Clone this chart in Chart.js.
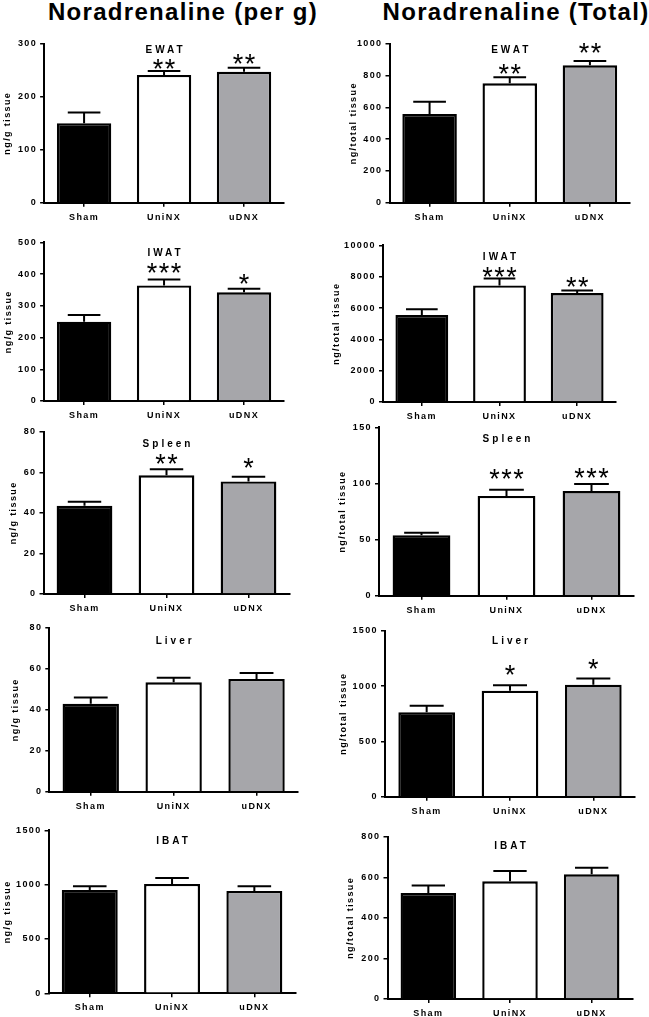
<!DOCTYPE html>
<html>
<head>
<meta charset="utf-8">
<script src="https://cdn.jsdelivr.net/npm/chart.js@4.4.0/dist/chart.umd.min.js"></script>
<style>
  body { margin: 0; background: #fff; width: 649px; height: 1017px; position: relative; overflow: hidden;
         font-family: "Liberation Sans", Arial, sans-serif; }
  .title { position: absolute; font-weight: bold; font-size: 24px; line-height: 25px; letter-spacing: 1.3px;
           white-space: nowrap; transform: translateX(-50%); color: #000; }
</style>
</head>
<body>
<div class="title" style="left:183px; top:-1px;">Noradrenaline (per g)</div>
<div class="title" style="left:516px; top:-1px;">Noradrenaline (Total)</div>
<script>
const groups = ['Sham', 'UniNX', 'uDNX'];
const barColors = ['#000000', '#ffffff', '#a6a6aa'];

// Noradrenaline per g tissue (mean, SEM, significance)
const ewatG = [150, 241, 247];
const ewatGErr = [20, 7.5, 7.7];
const ewatGSig = ['', '**', '**'];
const iwatG = [250, 364.5, 342.5];
const iwatGErr = [21, 18.5, 11.5];
const iwatGSig = ['', '***', '*'];
const spleenG = [43.5, 58.5, 55.5];
const spleenGErr = [2, 3, 2.3];
const spleenGSig = ['', '**', '*'];
const liverG = [42.9, 53.4, 55];
const liverGErr = [3, 2.2, 2.9];
const liverGSig = ['', '', ''];
const ibatG = [952, 1007, 943];
const ibatGErr = [34, 55, 43];
const ibatGSig = ['', '', ''];

// Noradrenaline total tissue
const ewatT = [558, 751, 864];
const ewatTErr = [77, 38, 27];
const ewatTSig = ['', '**', '**'];
const iwatT = [5552, 7447, 6956];
const iwatTErr = [363, 447, 172];
const iwatTSig = ['', '***', '**'];
const spleenT = [53.8, 88.9, 93.3];
const spleenTErr = [2.4, 5.6, 6.3];
const spleenTSig = ['', '***', '***'];
const liverT = [763, 958, 1012];
const liverTErr = [59, 49, 56];
const liverTSig = ['', '*', '*'];
const ibatT = [522, 580, 615];
const ibatTErr = [38, 51, 32];
const ibatTSig = ['', '', ''];

// panel layout: plot box in page pixels, axis range, label placement
const panels = [
  { data: ewatG, err: ewatGErr, sig: ewatGSig, max: 300, step: 100, unit: 'ng/g tissue', tissue: 'EWAT',
    x0: 44.1, x1: 284, top: 43.7, bottom: 202.7, labelX: 8, tissueY: 6.3, starGap: [0, 7, 9] },
  { data: ewatT, err: ewatTErr, sig: ewatTSig, max: 1000, step: 200, unit: 'ng/total tissue', tissue: 'EWAT',
    x0: 389.5, x1: 630, top: 43.7, bottom: 202.7, labelX: 353.5, tissueY: 6.3, starGap: [0, 8, 13] },
  { data: iwatG, err: iwatGErr, sig: iwatGSig, max: 500, step: 100, unit: 'ng/g tissue', tissue: 'IWAT',
    x0: 44.1, x1: 284, top: 242.3, bottom: 401, labelX: 9, tissueY: 10.4, starGap: [0, 11.6, 10] },
  { data: iwatT, err: iwatTErr, sig: iwatTSig, max: 10000, step: 2000, unit: 'ng/total tissue', tissue: 'IWAT',
    x0: 383, x1: 616, top: 245.3, bottom: 402, labelX: 336.5, tissueY: 11.4, starGap: [0, 6.6, 8.6] },
  { data: spleenG, err: spleenGErr, sig: spleenGSig, max: 80, step: 20, unit: 'ng/g tissue', tissue: 'Spleen',
    x0: 43.5, x1: 289.5, top: 431.7, bottom: 594, labelX: 13.7, tissueY: 12.3, starGap: [0, 10, 14] },
  { data: spleenT, err: spleenTErr, sig: spleenTSig, max: 150, step: 50, unit: 'ng/total tissue', tissue: 'Spleen',
    x0: 379, x1: 634, top: 427.3, bottom: 595.7, labelX: 342.5, tissueY: 12, starGap: [0, 16, 11] },
  { data: liverG, err: liverGErr, sig: liverGSig, max: 80, step: 20, unit: 'ng/g tissue', tissue: 'Liver',
    x0: 49.3, x1: 298, top: 627.7, bottom: 791.7, labelX: 15.5, tissueY: 13.3, starGap: [0, 0, 0] },
  { data: liverT, err: liverTErr, sig: liverTSig, max: 1500, step: 500, unit: 'ng/total tissue', tissue: 'Liver',
    x0: 385, x1: 635, top: 630.7, bottom: 796.7, labelX: 343.5, tissueY: 11, starGap: [0, 15, 15] },
  { data: ibatG, err: ibatGErr, sig: ibatGSig, max: 1500, step: 500, unit: 'ng/g tissue', tissue: 'IBAT',
    x0: 48.6, x1: 295.5, top: 830, bottom: 993.3, labelX: 8, tissueY: 11, starGap: [0, 0, 0] },
  { data: ibatT, err: ibatTErr, sig: ibatTSig, max: 800, step: 200, unit: 'ng/total tissue', tissue: 'IBAT',
    x0: 387.5, x1: 632.5, top: 836.7, bottom: 999, labelX: 351, tissueY: 10, starGap: [0, 0, 0] }
];

const FONT = '"Liberation Sans", Arial, sans-serif';

// error bars, significance stars and tissue name
function overlay(p) {
  return {
    id: 'overlay',
    beforeUpdate(chart) { chart.ctx.letterSpacing = '1.4px'; },
    beforeDraw(chart) { chart.ctx.letterSpacing = '1.4px'; },
    afterDatasetsDraw(chart) {
      const ctx = chart.ctx;
      const y = chart.scales.y;
      const area = chart.chartArea;
      const meta = chart.getDatasetMeta(0);
      ctx.save();
      ctx.strokeStyle = '#000';
      ctx.lineWidth = 2;
      meta.data.forEach((bar, i) => {
        const topPx = y.getPixelForValue(p.data[i] + p.err[i]);
        const half = bar.width * 0.3;
        ctx.beginPath();
        ctx.moveTo(bar.x, bar.y);
        ctx.lineTo(bar.x, topPx);
        ctx.moveTo(bar.x - half, topPx);
        ctx.lineTo(bar.x + half, topPx);
        ctx.stroke();

        if (p.sig[i]) {
          ctx.font = '27px ' + FONT;
          ctx.letterSpacing = '1.5px';
          ctx.fillStyle = '#000';
          ctx.textAlign = 'center';
          ctx.textBaseline = 'alphabetic';
          const m = ctx.measureText(p.sig[i]);
          const yc = topPx - p.starGap[i];
          ctx.fillText(p.sig[i], bar.x + 0.75, yc + (m.actualBoundingBoxAscent - m.actualBoundingBoxDescent) / 2);
        }
      });

      ctx.font = 'bold 10px ' + FONT;
      ctx.letterSpacing = '3px';
      ctx.fillStyle = '#000';
      ctx.textAlign = 'center';
      ctx.textBaseline = 'middle';
      ctx.fillText(p.tissue, (area.left + area.right) / 2 + 1.5, area.top + p.tissueY);
      ctx.restore();
    }
  };
}

panels.forEach(p => {
  const left = Math.floor(p.labelX - 5.4);
  const top = Math.floor(p.top - 8);
  const w = Math.ceil(p.x1 + 4 - left);
  const h = Math.ceil(p.bottom + 24 - top);
  const cv = document.createElement('canvas');
  cv.width = w;
  cv.height = h;
  cv.style.cssText = `position:absolute;left:${left}px;top:${top}px;width:${w}px;height:${h}px`;
  document.body.appendChild(cv);

  new Chart(cv, {
    type: 'bar',
    data: {
      labels: groups,
      datasets: [{
        data: p.data,
        backgroundColor: barColors,
        borderColor: '#000',
        borderWidth: 2.4,
        barPercentage: 0.68,
        categoryPercentage: 1
      }]
    },
    options: {
      responsive: false,
      animation: false,
      layout: { padding: { top: p.top - top, right: left + w - p.x1, bottom: 0, left: 0 } },
      plugins: { legend: { display: false }, tooltip: { enabled: false } },
      scales: {
        x: {
          grid: { display: true, drawOnChartArea: false, drawTicks: true, tickLength: 4, offset: false,
                  color: '#000', lineWidth: 1.5 },
          border: { display: true, color: '#000', width: 2 },
          ticks: { color: '#000', font: { family: FONT, size: 9, weight: 'bold' }, padding: 5, maxRotation: 0 },
          afterFit: s => { s.height = h - (p.bottom - top); }
        },
        y: {
          min: 0,
          max: p.max,
          grid: { display: true, drawOnChartArea: false, drawTicks: true, tickLength: 4, color: '#000', lineWidth: 1.5 },
          border: { display: true, color: '#000', width: 2 },
          ticks: { stepSize: p.step, color: '#000', font: { family: FONT, size: 9, weight: 'bold' }, padding: 3,
                   callback: v => String(v) },
          title: { display: true, text: p.unit, color: '#000', padding: 0,
                   font: { family: FONT, size: 9, weight: 'bold' } },
          afterFit: s => { s.width = p.x0 - left; }
        }
      }
    },
    plugins: [overlay(p)]
  });
});
</script>
</body>
</html>
